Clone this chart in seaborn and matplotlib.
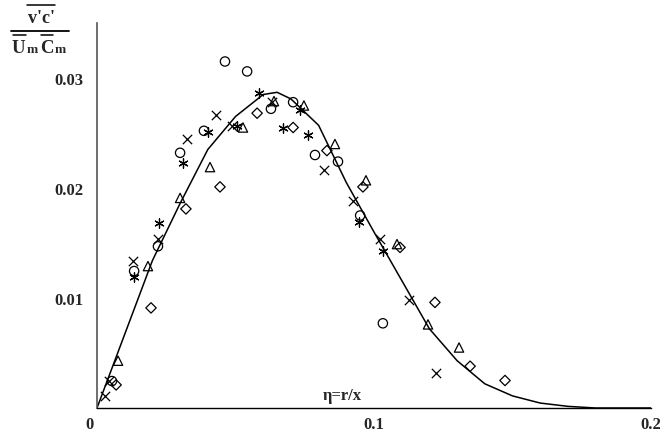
import matplotlib
matplotlib.use("Agg")
import matplotlib.pyplot as plt
import matplotlib.transforms as mtransforms
from matplotlib.lines import Line2D
import seaborn as sns

# ---- data ----
circle_x = [0.0054, 0.0134, 0.0220, 0.0300, 0.0386, 0.0462, 0.0542, 0.0628, 0.0708, 0.0787, 0.0870, 0.0950, 0.1032]
circle_y = [0.00245, 0.01245, 0.0147, 0.0232, 0.0252, 0.0315, 0.0306, 0.0272, 0.0278, 0.0230, 0.0224, 0.0175, 0.0077]

cross_x = [0.0029, 0.0045, 0.0130, 0.0220, 0.0325, 0.0430, 0.0488, 0.0632, 0.0820, 0.0924, 0.1022, 0.1126, 0.1224]
cross_y = [0.0011, 0.0025, 0.0134, 0.0154, 0.0245, 0.0266, 0.0256, 0.0278, 0.0216, 0.0188, 0.0154, 0.0098, 0.0032]

aster_x = [0.0134, 0.0224, 0.0310, 0.0400, 0.0505, 0.0585, 0.0671, 0.0733, 0.0762, 0.0946, 0.1033]
aster_y = [0.0119, 0.0168, 0.0223, 0.0251, 0.0256, 0.0286, 0.0255, 0.0271, 0.0248, 0.0169, 0.0143]

tri_x = [0.0076, 0.0184, 0.0300, 0.0408, 0.0527, 0.0639, 0.0747, 0.0859, 0.0971, 0.1083, 0.1195, 0.1307]
tri_y = [0.0043, 0.0129, 0.0191, 0.0219, 0.0255, 0.0279, 0.0275, 0.0240, 0.0207, 0.0149, 0.0076, 0.0055]

dia_x = [0.0069, 0.0195, 0.0321, 0.0444, 0.0578, 0.0708, 0.0830, 0.0960, 0.1094, 0.1220, 0.1347, 0.1473]
dia_y = [0.0021, 0.0091, 0.0181, 0.0201, 0.0268, 0.0255, 0.0234, 0.0201, 0.0146, 0.0096, 0.0038, 0.0025]

curve_x = [0.0, 0.01, 0.02, 0.03, 0.04, 0.05, 0.06, 0.065, 0.07, 0.08, 0.09, 0.10,
           0.11, 0.12, 0.13, 0.14, 0.15, 0.16, 0.17, 0.18, 0.19, 0.20]
curve_y = [0.0, 0.0067, 0.0134, 0.0186, 0.0235, 0.0265, 0.0285, 0.0287, 0.0281, 0.0257, 0.0205, 0.0160,
           0.0116, 0.0072, 0.0043, 0.0022, 0.0011, 0.00045, 0.00015, 0.0, 0.0, 0.0]

xticks = [0, 0.1, 0.2]
xticklabels = ["0", "0.1", "0.2"]
yticks = [0.01, 0.02, 0.03]
yticklabels = ["0.01", "0.02", "0.03"]
xlabel_text = "η=r/x"

sns.set_style("white")
plt.rcParams['font.family'] = ['Liberation Serif', 'DejaVu Serif']

W, H = 660, 439
fig = plt.figure(figsize=(6.6, 4.39), dpi=100)
ax = fig.add_axes([97/W, 30/H, 554/W, 385/H])

sns.lineplot(x=curve_x, y=curve_y, ax=ax, color='black', lw=1.1, sort=False)

mk = dict(s=45, linewidth=0.9, ax=ax, zorder=3)
sns.scatterplot(x=circle_x, y=circle_y, marker='o', facecolors='none', edgecolor='black', **mk)
sns.scatterplot(x=cross_x, y=cross_y, marker='x', color='black', **mk)
sns.scatterplot(x=aster_x, y=aster_y, marker=(6, 2, 0), color='black', **mk)
sns.scatterplot(x=tri_x, y=tri_y, marker='^', facecolors='none', edgecolor='black', **mk)
sns.scatterplot(x=dia_x, y=dia_y, marker='D', facecolors='none', edgecolor='black',
                s=28, linewidth=0.9, ax=ax, zorder=3)

ax.set_xlim(0, 0.2)
ax.set_ylim(0, 0.035)
ax.set_xticks(xticks)
ax.set_xticklabels(xticklabels, fontweight='bold', fontsize=12)
ax.set_yticks(yticks)
ax.set_yticklabels(yticklabels, fontweight='bold', fontsize=12)
ax.tick_params(axis='x', direction='inout', length=9, width=1.0, pad=1.5)
ax.tick_params(axis='y', direction='inout', length=9, width=1.0, pad=5.5, color='#555555')

# shift the "0" label left like in the reference
lbl0 = ax.get_xticklabels()[0]
lbl0.set_transform(lbl0.get_transform() + mtransforms.ScaledTranslation(-8/100, 0, fig.dpi_scale_trans))

for s in ['top', 'right']:
    ax.spines[s].set_visible(False)
ax.spines['left'].set_color('#555555')
ax.spines['left'].set_linewidth(1.2)
ax.spines['bottom'].set_color('black')
ax.spines['bottom'].set_linewidth(1.0)

ax.text(0.0885, 0.00045, xlabel_text, fontsize=12, fontweight='bold', ha='center', va='bottom',
        family=['Liberation Serif', 'DejaVu Serif'])

# y label: overline(v'c') / (overline(U)_m overline(C)_m), drawn in pixel positions
def fx(px):
    return px / W

def fy(py):
    return 1 - py / H

fig.text(fx(41), fy(23), "v'c'", fontsize=13, fontweight='bold', ha='center', va='baseline')
fig.add_artist(Line2D([fx(27), fx(55)], [fy(6), fy(6)], color='black', lw=1.1))
fig.add_artist(Line2D([fx(11), fx(69)], [fy(32), fy(32)], color='black', lw=1.3))
fig.text(fx(12), fy(53), "U", fontsize=13.5, fontweight='bold', ha='left', va='baseline')
fig.text(fx(26.5), fy(53), "m", fontsize=9.5, fontweight='bold', ha='left', va='baseline')
fig.text(fx(40), fy(53), "C", fontsize=13.5, fontweight='bold', ha='left', va='baseline')
fig.text(fx(54.5), fy(53), "m", fontsize=9.5, fontweight='bold', ha='left', va='baseline')
fig.add_artist(Line2D([fx(13), fx(26)], [fy(35.5), fy(35.5)], color='black', lw=1.1))
fig.add_artist(Line2D([fx(41), fx(53)], [fy(35.5), fy(35.5)], color='black', lw=1.1))

fig.savefig("out.png", dpi=100)
